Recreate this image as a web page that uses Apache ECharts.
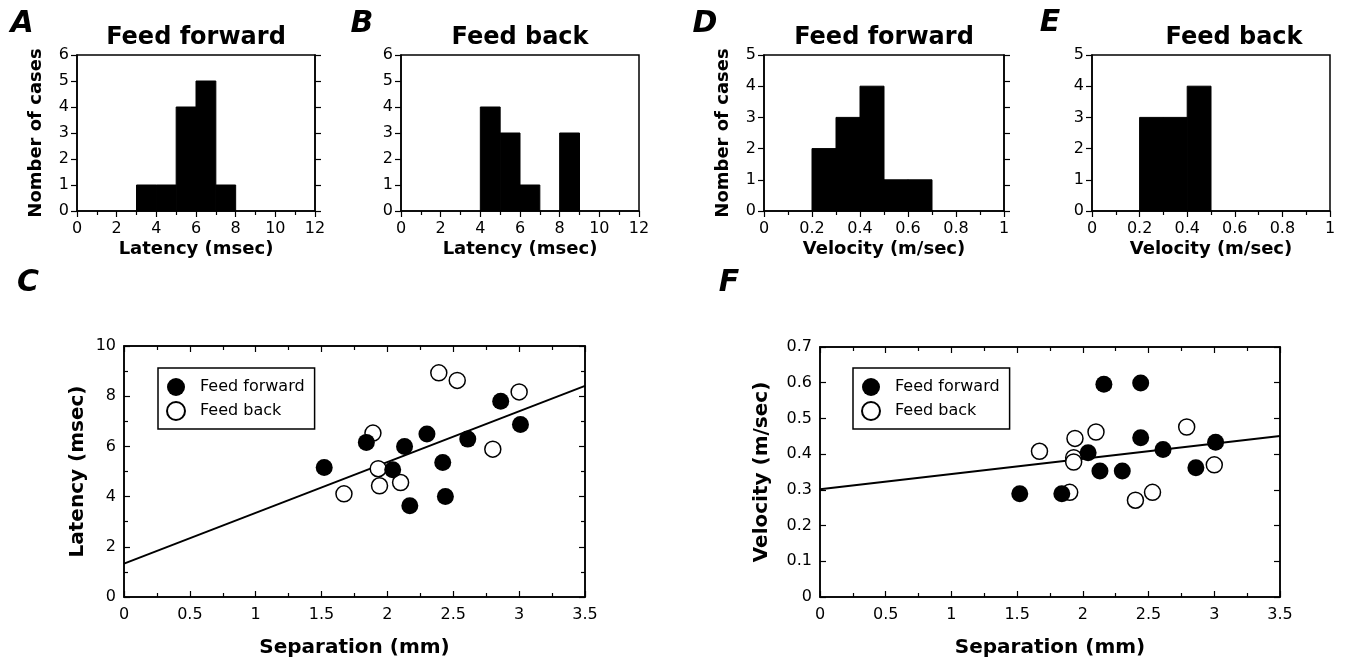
<!DOCTYPE html>
<html>
<head>
<meta charset="utf-8">
<script src="https://cdn.jsdelivr.net/npm/echarts@6/dist/echarts.min.js"></script>
<style>
  html, body { margin: 0; padding: 0; background: #fff; }
  #main { width: 1346px; height: 660px; }
</style>
</head>
<body>
<div id="main"></div>
<script>
// histogram bins (start, end, count)
const latFFStart = [3, 4, 5, 6, 7];
const latFFEnd   = [4, 5, 6, 7, 8];
const latFFCount = [1, 1, 4, 5, 1];

const latFBStart = [4, 5, 6, 8];
const latFBEnd   = [5, 6, 7, 9];
const latFBCount = [4, 3, 1, 3];

const velFFStart = [0.2, 0.3, 0.4, 0.5, 0.6];
const velFFEnd   = [0.3, 0.4, 0.5, 0.6, 0.7];
const velFFCount = [2, 3, 4, 1, 1];

const velFBStart = [0.2, 0.3, 0.4];
const velFBEnd   = [0.3, 0.4, 0.5];
const velFBCount = [3, 3, 4];

// panel C: separation vs latency
const sepFF_C = [1.52, 1.84, 2.04, 2.13, 2.17, 2.30, 2.42, 2.44, 2.61, 2.86, 3.01];
const latFF   = [5.16, 6.16, 5.07, 6.00, 3.64, 6.49, 5.36, 4.00, 6.29, 7.80, 6.87];
const sepFB_C = [1.67, 1.89, 1.93, 1.94, 2.10, 2.39, 2.53, 2.80, 3.00];
const latFB   = [4.11, 6.53, 5.11, 4.43, 4.56, 8.93, 8.63, 5.89, 8.17];
const fitX_C  = [0, 3.5];
const fitLat  = [1.33, 8.41];

// panel F: separation vs velocity
const sepFF_F = [1.52, 1.84, 2.04, 2.16, 2.13, 2.30, 2.44, 2.44, 2.61, 2.86, 3.01];
const velFF   = [0.289, 0.289, 0.404, 0.596, 0.353, 0.353, 0.599, 0.446, 0.413, 0.362, 0.433];
const sepFB_F = [1.67, 1.90, 1.94, 1.93, 1.93, 2.10, 2.40, 2.53, 2.79, 3.00];
const velFB   = [0.408, 0.293, 0.444, 0.390, 0.378, 0.462, 0.271, 0.293, 0.476, 0.370];
const fitX_F  = [0, 3.5];
const fitVel  = [0.302, 0.451];

const FONT = 'DejaVu Sans';
const chart = echarts.init(document.getElementById('main'));

function bins(s, e, c) { return s.map((v, i) => [v, e[i], c[i]]); }
function pairs(xs, ys) { return xs.map((v, i) => [v, ys[i]]); }

function renderBin(params, api) {
  const p0 = api.coord([api.value(0), 0]);
  const p1 = api.coord([api.value(1), api.value(2)]);
  return {
    type: 'rect',
    shape: { x: p0[0], y: p1[1], width: p1[0] - p0[0], height: p0[1] - p1[1] },
    style: { fill: '#000', stroke: '#000', lineWidth: 1 }
  };
}

const lineStyle = { color: '#000', width: 1.5 };
const tickStyle = { color: '#000', width: 1.2 };
const labelStyle = { color: '#000', fontSize: 16, fontFamily: FONT };
const nameStyle = { color: '#000', fontSize: 18, fontWeight: 'bold', fontFamily: FONT };

function grid(left, top, width, height) {
  return { left: left, top: top, width: width, height: height, show: true,
    borderColor: '#000', borderWidth: 1.5, backgroundColor: 'transparent' };
}

function xAx(gi, max, interval, name, opt) {
  opt = opt || {};
  return {
    type: 'value', gridIndex: gi, min: 0, max: max, interval: interval,
    position: opt.top ? 'top' : 'bottom',
    name: opt.top ? '' : name, nameLocation: 'middle', nameGap: opt.nameGap || 30,
    nameTextStyle: Object.assign({}, nameStyle, { fontSize: opt.nameSize || 18 }),
    axisLine: { show: true, onZero: false, lineStyle: lineStyle },
    axisTick: { show: true, inside: !!opt.inside, length: 6, lineStyle: tickStyle },
    minorTick: { show: opt.minor !== false, splitNumber: opt.split || 2, length: 4, lineStyle: tickStyle },
    axisLabel: Object.assign({ show: !opt.top, margin: 10 }, labelStyle),
    splitLine: { show: false }
  };
}

function yAx(gi, max, interval, name, opt) {
  opt = opt || {};
  return {
    type: 'value', gridIndex: gi, min: 0, max: max, interval: interval,
    position: opt.right ? 'right' : 'left',
    name: opt.right ? '' : name, nameLocation: 'middle', nameGap: opt.nameGap || 30,
    nameTextStyle: Object.assign({}, nameStyle, { fontSize: opt.nameSize || 18 }),
    axisLine: { show: true, onZero: false, lineStyle: lineStyle },
    axisTick: { show: opt.ticks !== false, inside: !!opt.inside, length: 6, lineStyle: tickStyle },
    minorTick: { show: !!opt.minor, splitNumber: 2, length: 4, lineStyle: tickStyle },
    axisLabel: Object.assign({ show: !opt.right, margin: 8 }, labelStyle),
    splitLine: { show: false }
  };
}

function txt(x, y, text, font, align) {
  return { type: 'text', x: x, y: y, silent: true,
    style: { text: text, font: font, fill: '#000', align: align || 'center', verticalAlign: 'middle' } };
}

function legendAt(left) {
  return {
    left: left, top: 368, orient: 'vertical', data: ['Feed forward', 'Feed back'],
    borderColor: '#000', borderWidth: 1.5, padding: [10, 10, 8, 8], itemGap: 5,
    itemWidth: 18, itemHeight: 18, icon: 'circle',
    textStyle: { color: '#000', fontSize: 16, fontFamily: FONT, padding: [0, 0, 0, 10] }
  };
}

const titleFont = 'bold 24px ' + FONT;
const letterFont = 'italic bold 30px ' + FONT;

const option = {
  animation: false,
  backgroundColor: '#fff',
  grid: [
    grid(77, 55, 238, 156),    // A
    grid(401, 55, 238, 156),   // B
    grid(764, 55, 240, 156),   // D
    grid(1092, 55, 238, 156),  // E
    grid(124, 346, 461, 251),  // C
    grid(820, 347, 460, 250)   // F
  ],
  xAxis: [
    xAx(0, 12, 2, 'Latency (msec)', { nameGap: 29 }),
    xAx(1, 12, 2, 'Latency (msec)', { nameGap: 29 }),
    xAx(2, 1, 0.2, 'Velocity (m/sec)', { nameGap: 29 }),
    xAx(3, 1, 0.2, 'Velocity (m/sec)', { nameGap: 29 }),
    xAx(4, 3.5, 0.5, 'Separation (mm)', { inside: true, nameGap: 41, nameSize: 20 }),
    xAx(4, 3.5, 0.5, '', { inside: true, top: true }),
    xAx(5, 3.5, 0.5, 'Separation (mm)', { inside: true, nameGap: 41, nameSize: 20 }),
    xAx(5, 3.5, 0.5, '', { inside: true, top: true })
  ],
  yAxis: [
    yAx(0, 6, 1, 'Nomber of cases', { nameGap: 32 }),
    yAx(0, 6, 1, '', { right: true }),
    yAx(1, 6, 1, ''),
    yAx(2, 5, 1, 'Nomber of cases', { nameGap: 32 }),
    yAx(2, 6, 1, '', { right: true }),
    yAx(3, 5, 1, ''),
    yAx(4, 10, 2, 'Latency (msec)', { inside: true, minor: true, nameGap: 36, nameSize: 20 }),
    yAx(4, 10, 2, '', { right: true, inside: true, minor: true }),
    yAx(5, 0.7, 0.1, 'Velocity (m/sec)', { inside: true, nameGap: 48, nameSize: 20 }),
    yAx(5, 0.7, 0.1, '', { right: true, inside: true })
  ],
  legend: [legendAt(158), legendAt(853)],
  graphic: [
    txt(22, 24, 'A', letterFont), txt(362, 24, 'B', letterFont),
    txt(705, 24, 'D', letterFont), txt(1050, 23, 'E', letterFont),
    txt(28, 283, 'C', letterFont), txt(729, 283, 'F', letterFont),
    txt(196, 38, 'Feed forward', titleFont), txt(520, 38, 'Feed back', titleFont),
    txt(884, 38, 'Feed forward', titleFont), txt(1234, 38, 'Feed back', titleFont)
  ],
  series: [
    { type: 'custom', xAxisIndex: 0, yAxisIndex: 0, renderItem: renderBin,
      encode: { x: [0, 1], y: 2 }, data: bins(latFFStart, latFFEnd, latFFCount) },
    { type: 'custom', xAxisIndex: 1, yAxisIndex: 2, renderItem: renderBin,
      encode: { x: [0, 1], y: 2 }, data: bins(latFBStart, latFBEnd, latFBCount) },
    { type: 'custom', xAxisIndex: 2, yAxisIndex: 3, renderItem: renderBin,
      encode: { x: [0, 1], y: 2 }, data: bins(velFFStart, velFFEnd, velFFCount) },
    { type: 'custom', xAxisIndex: 3, yAxisIndex: 5, renderItem: renderBin,
      encode: { x: [0, 1], y: 2 }, data: bins(velFBStart, velFBEnd, velFBCount) },

    { name: 'fitC', type: 'line', xAxisIndex: 4, yAxisIndex: 6, symbol: 'none',
      lineStyle: { color: '#000', width: 2 }, data: pairs(fitX_C, fitLat), z: 1 },
    { name: 'Feed forward', type: 'scatter', xAxisIndex: 4, yAxisIndex: 6, symbolSize: 17,
      itemStyle: { color: '#000', opacity: 1 }, data: pairs(sepFF_C, latFF), z: 3 },
    { name: 'Feed back', type: 'scatter', xAxisIndex: 4, yAxisIndex: 6, symbolSize: 16,
      itemStyle: { color: '#fff', borderColor: '#000', borderWidth: 1.5, opacity: 1 },
      data: pairs(sepFB_C, latFB), z: 2 },

    { name: 'fitF', type: 'line', xAxisIndex: 6, yAxisIndex: 8, symbol: 'none',
      lineStyle: { color: '#000', width: 2 }, data: pairs(fitX_F, fitVel), z: 1 },
    { name: 'Feed forward', type: 'scatter', xAxisIndex: 6, yAxisIndex: 8, symbolSize: 17,
      itemStyle: { color: '#000', opacity: 1 }, data: pairs(sepFF_F, velFF), z: 3 },
    { name: 'Feed back', type: 'scatter', xAxisIndex: 6, yAxisIndex: 8, symbolSize: 16,
      itemStyle: { color: '#fff', borderColor: '#000', borderWidth: 1.5, opacity: 1 },
      data: pairs(sepFB_F, velFB), z: 2 }
  ]
};

chart.setOption(option);
</script>
</body>
</html>
